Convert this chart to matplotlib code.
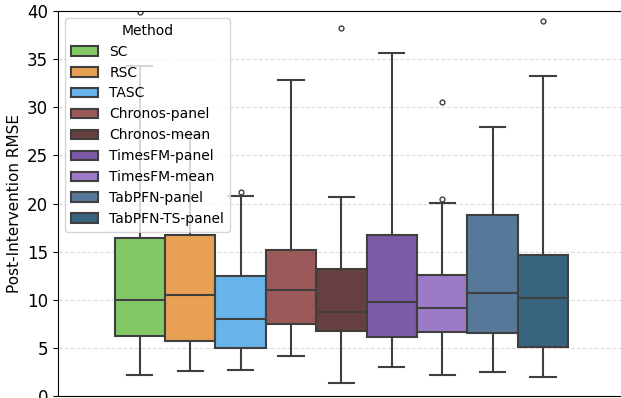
import numpy as np
import matplotlib
matplotlib.use("Agg")
import matplotlib.pyplot as plt
from matplotlib.patches import Patch

# box statistics
methods = ["SC", "RSC", "TASC", "Chronos-panel", "Chronos-mean",
           "TimesFM-panel", "TimesFM-mean", "TabPFN-panel", "TabPFN-TS-panel"]
colors = ["#82C966", "#E7A054", "#68B3E9", "#9B5A59", "#673F41",
          "#7B5AA6", "#9C7BC6", "#567899", "#376580"]
whislo = [2.2, 2.6, 2.7, 4.2, 1.35, 3.0, 2.15, 2.5, 2.0]
q1 = [6.25, 5.7, 4.97, 7.47, 6.77, 6.1, 6.63, 6.53, 5.07]
med = [9.95, 10.5, 8.0, 11.0, 8.68, 9.72, 9.1, 10.7, 10.2]
q3 = [16.43, 16.7, 12.43, 15.2, 13.2, 16.74, 12.57, 18.8, 14.7]
whishi = [34.3, 27.1, 20.83, 32.85, 20.7, 35.6, 20.1, 27.95, 33.25]
fliers = [[39.9], [], [21.2], [], [38.3], [], [20.5, 30.6], [], [38.95]]

fig = plt.figure(figsize=(6.21, 3.98), dpi=100)
ax = fig.add_axes([0.0934, 0.005, 0.913, 0.967])

n = len(methods)
w = 0.8 / n
positions = -0.4 + w * (np.arange(n) + 0.5)

stats = []
for i in range(n):
    stats.append(dict(label=methods[i], whislo=whislo[i], q1=q1[i], med=med[i],
                      q3=q3[i], whishi=whishi[i], fliers=fliers[i]))

lc = "#3f3f3f"
bp = ax.bxp(stats, positions=positions, widths=w, patch_artist=True,
            capwidths=w * 0.5,
            boxprops=dict(edgecolor=lc, linewidth=1.5),
            medianprops=dict(color=lc, linewidth=1.5),
            whiskerprops=dict(color=lc, linewidth=1.5),
            capprops=dict(color=lc, linewidth=1.5),
            flierprops=dict(marker="o", markersize=3.5, markerfacecolor="none",
                            markeredgecolor=lc, markeredgewidth=1.0))
for patch, c in zip(bp["boxes"], colors):
    patch.set_facecolor(c)

ax.set_xlim(-0.5, 0.5)
ax.set_ylim(0, 40)
ax.set_xticks([])
ax.set_yticks(np.arange(0, 41, 5))
ax.tick_params(axis="y", labelsize=12)
ax.set_ylabel("Post-Intervention RMSE", fontsize=11)
ax.yaxis.grid(True, linestyle="--", color="#cccccc", alpha=0.7, linewidth=0.8)
ax.set_axisbelow(True)

handles = [Patch(facecolor=c, edgecolor=lc, linewidth=1.5, label=m)
           for m, c in zip(methods, colors)]
ax.legend(handles=handles, title="Method", loc="upper left", fontsize=10,
          title_fontsize=10, bbox_to_anchor=(0.0, 1.0))

fig.savefig("out.png", dpi=100)
